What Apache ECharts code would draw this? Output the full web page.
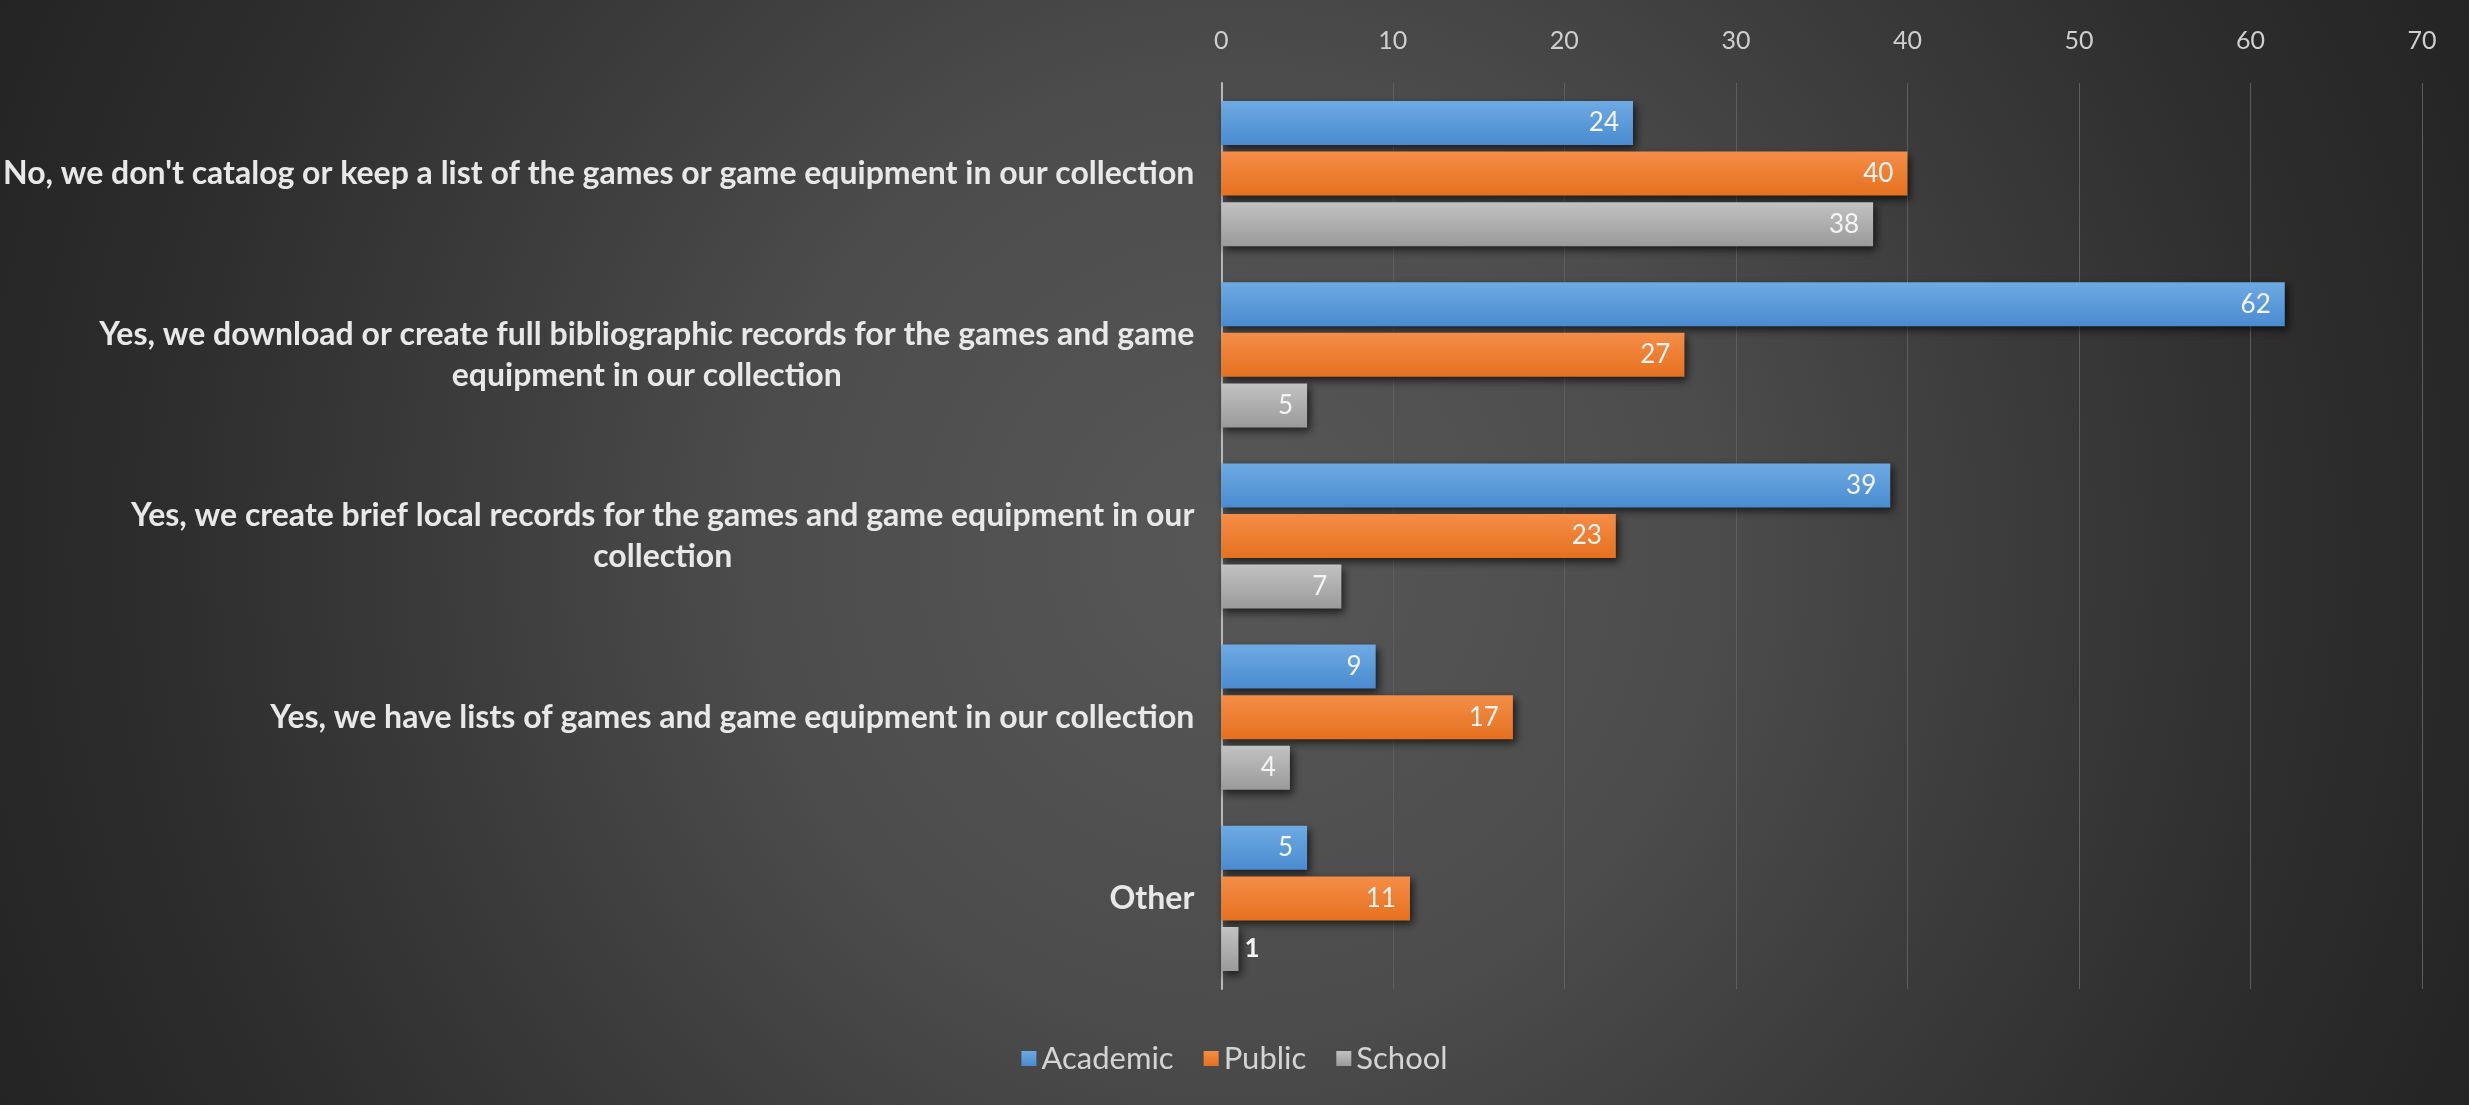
<!DOCTYPE html>
<html>
<head>
<meta charset="utf-8">
<script src="https://cdn.jsdelivr.net/npm/echarts@6/dist/echarts.min.js"></script>
<style>
  html, body { margin: 0; padding: 0; background: #262626; }
  #chart { width: 2469px; height: 1105px; }
</style>
</head>
<body>
<div id="chart"></div>
<script>
// Survey responses: how libraries catalog their games collection
const categories = [
  "No, we don't catalog or keep a list of the games or game equipment in our collection",
  "Yes, we download or create full bibliographic records for the games and game\nequipment in our collection",
  "Yes, we create brief local records for the games and game equipment in our\ncollection",
  "Yes, we have lists of games and game equipment in our collection",
  "Other"
];
const academic = [24, 62, 39, 9, 5];
const publicLib = [40, 27, 23, 17, 11];
const school = [38, 5, 7, 4, 1];
const seriesNames = ['Academic', 'Public', 'School'];
const valueTicks = { min: 0, max: 70, interval: 10 };

const W = 2469, H = 1105;
const chart = echarts.init(document.getElementById('chart'), null, { width: W, height: H });

function barGradient(top, bottom) {
  return new echarts.graphic.LinearGradient(0, 0, 0, 1, [
    { offset: 0, color: top },
    { offset: 1, color: bottom }
  ]);
}

const palette = [
  { base: '#5b9bd5', fill: barGradient('#6eaae3', '#4a8bd0') },
  { base: '#ed7d31', fill: barGradient('#f58d47', '#e5711f') },
  { base: '#a5a5a5', fill: barGradient('#c2c2c2', '#9a9a9a') }
];

function makeSeries(name, data, idx) {
  return {
    name: name,
    type: 'bar',
    data: data.map(function (v) {
      // very short bars carry their value just outside the end
      if (v < 3) {
        return { value: v, label: { position: 'right', distance: 6, fontWeight: 'bold' } };
      }
      return v;
    }),
    barWidth: 44,
    barGap: '15%',
    itemStyle: {
      color: palette[idx].fill,
      shadowColor: 'rgba(0,0,0,0.65)',
      shadowBlur: 8,
      shadowOffsetX: 3,
      shadowOffsetY: 4
    },
    label: {
      show: true,
      position: 'insideRight',
      distance: 14,
      color: '#f4f4f4',
      fontFamily: 'Lato',
      fontSize: 26
    },
    emphasis: { disabled: true }
  };
}

const option = {
  backgroundColor: new echarts.graphic.RadialGradient(W / 2, H / 2, 1352, [
    { offset: 0, color: '#575757' },
    { offset: 0.35, color: '#4c4c4c' },
    { offset: 0.6, color: '#3a3a3a' },
    { offset: 0.8, color: '#2d2d2d' },
    { offset: 1, color: '#242424' }
  ], true),
  animation: false,
  color: palette.map(function (p) { return p.base; }),
  legend: {
    data: seriesNames,
    bottom: 26,
    left: 'center',
    itemWidth: 15,
    itemHeight: 15,
    itemGap: 30,
    icon: 'rect',
    textStyle: { color: '#d4d4d4', fontFamily: 'Lato', fontSize: 31 }
  },
  grid: { left: 1219, right: 47, top: 83, bottom: 116 },
  xAxis: {
    type: 'value',
    position: 'top',
    min: valueTicks.min,
    max: valueTicks.max,
    interval: valueTicks.interval,
    axisLine: { show: false },
    axisTick: { show: false },
    axisLabel: { color: '#cfcfcf', fontFamily: 'Lato', fontSize: 25, margin: 30 },
    splitLine: { lineStyle: { color: '#5e5e5e', width: 1 } }
  },
  yAxis: {
    type: 'category',
    inverse: true,
    data: categories,
    axisLine: { show: true, lineStyle: { color: '#b8b8b8', width: 2 } },
    axisTick: { show: false },
    axisLabel: {
      margin: 27,
      color: '#e8e8e8',
      fontFamily: 'Lato',
      fontWeight: 'bold',
      fontSize: 32,
      lineHeight: 41,
      formatter: function (value) {
        return value.split('\n').map(function (line) { return '{c|' + line + '}'; }).join('\n');
      },
      rich: {
        c: { align: 'center', color: '#e8e8e8', fontFamily: 'Lato', fontWeight: 'bold', fontSize: 32, lineHeight: 41 }
      }
    }
  },
  series: [
    makeSeries(seriesNames[0], academic, 0),
    makeSeries(seriesNames[1], publicLib, 1),
    makeSeries(seriesNames[2], school, 2)
  ]
};

chart.setOption(option);
</script>
</body>
</html>
